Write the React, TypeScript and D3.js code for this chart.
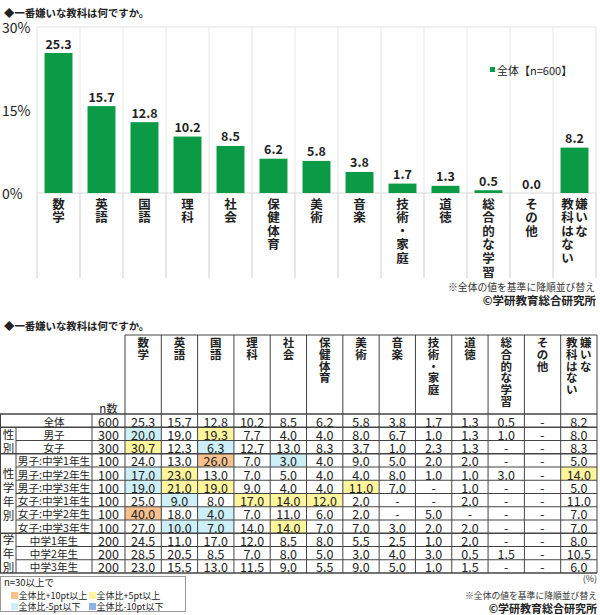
import React from 'react';
import * as d3 from 'd3';

const FONT = "'Noto Sans CJK JP', 'Noto Sans', sans-serif";

// ---- chart data ----
const categories = ['数学', '英語', '国語', '理科', '社会', '保健体育', '美術', '音楽', '技術・家庭', '道徳', '総合的な学習', 'その他', '嫌いな教科はない'];
const labelColumns = [['数学'], ['英語'], ['国語'], ['理科'], ['社会'], ['保健体育'], ['美術'], ['音楽'], ['技術・家庭'], ['道徳'], ['総合的な学習'], ['その他'], ['嫌いな', '教科はない']];
const overallValues = [25.3, 15.7, 12.8, 10.2, 8.5, 6.2, 5.8, 3.8, 1.7, 1.3, 0.5, 0.0, 8.2];
const yTicks = [0, 15, 30];
const legendLabel = '全体【n=600】';
const chartTitle = '◆一番嫌いな教科は何ですか。';

// ---- table data ----
const rowGroups = ['', '性別', '性別', '性学年別', '性学年別', '性学年別', '性学年別', '性学年別', '性学年別', '学年別', '学年別', '学年別'];
const rowLabels = ['全体', '男子', '女子', '男子:中学1年生', '男子:中学2年生', '男子:中学3年生', '女子:中学1年生', '女子:中学2年生', '女子:中学3年生', '中学1年生', '中学2年生', '中学3年生'];
const rowN = [600, 300, 300, 100, 100, 100, 100, 100, 100, 200, 200, 200];
const rowAll = [25.3, 15.7, 12.8, 10.2, 8.5, 6.2, 5.8, 3.8, 1.7, 1.3, 0.5, null, 8.2];
const rowMale = [20.0, 19.0, 19.3, 7.7, 4.0, 4.0, 8.0, 6.7, 1.0, 1.3, 1.0, null, 8.0];
const rowFemale = [30.7, 12.3, 6.3, 12.7, 13.0, 8.3, 3.7, 1.0, 2.3, 1.3, null, null, 8.3];
const rowM1 = [24.0, 13.0, 26.0, 7.0, 3.0, 4.0, 9.0, 5.0, 2.0, 2.0, null, null, 5.0];
const rowM2 = [17.0, 23.0, 13.0, 7.0, 5.0, 4.0, 4.0, 8.0, 1.0, 1.0, 3.0, null, 14.0];
const rowM3 = [19.0, 21.0, 19.0, 9.0, 4.0, 4.0, 11.0, 7.0, null, 1.0, null, null, 5.0];
const rowF1 = [25.0, 9.0, 8.0, 17.0, 14.0, 12.0, 2.0, null, null, 2.0, null, null, 11.0];
const rowF2 = [40.0, 18.0, 4.0, 7.0, 11.0, 6.0, 2.0, null, 5.0, null, null, null, 7.0];
const rowF3 = [27.0, 10.0, 7.0, 14.0, 14.0, 7.0, 7.0, 3.0, 2.0, 2.0, null, null, 7.0];
const rowG1 = [24.5, 11.0, 17.0, 12.0, 8.5, 8.0, 5.5, 2.5, 1.0, 2.0, null, null, 8.0];
const rowG2 = [28.5, 20.5, 8.5, 7.0, 8.0, 5.0, 3.0, 4.0, 3.0, 0.5, 1.5, null, 10.5];
const rowG3 = [23.0, 15.5, 13.0, 11.5, 9.0, 5.5, 9.0, 5.0, 1.0, 1.5, null, null, 6.0];
const tableValues = [rowAll, rowMale, rowFemale, rowM1, rowM2, rowM3, rowF1, rowF2, rowF3, rowG1, rowG2, rowG3];
const tableHeaderColumns = labelColumns;

const legendItems = [
  { label: '全体比+10pt以上', color: '#f8c18d' },
  { label: '全体比+5pt以上', color: '#fff59c' },
  { label: '全体比-5pt以下', color: '#cdeff7' },
  { label: '全体比-10pt以下', color: '#8db4e2' },
];

const GREEN = '#0b9a46';

function highlight(v: number | null, base: number | null, n: number, i: number): string | null {
  if (i === 0 || v == null || n < 30) return null;
  const b = base == null ? 0 : base;
  const d = v - b;
  if (d >= 10 - 1e-9) return legendItems[0].color;
  if (d >= 5 - 1e-9) return legendItems[1].color;
  if (d <= -10 + 1e-9) return legendItems[3].color;
  if (d <= -5 + 1e-9) return legendItems[2].color;
  return null;
}

function VerticalText({ cx, top, cols, step, size, weight, colGap }: any) {
  const n = cols.length;
  return (
    <g>
      {cols.map((col: string, ci: number) => {
        const xx = cx + ((n - 1) / 2 - ci) * colGap;
        return Array.from(col).map((ch, k) => (
          <text key={ci + '-' + k} x={xx} y={top + k * step} textAnchor="middle" dominantBaseline="central"
            fontSize={size} fontWeight={weight} fill="#222">{ch}</text>
        ));
      })}
    </g>
  );
}

export default function App() {
  // chart scales
  const x = d3.scaleBand<string>().domain(categories).range([37, 596]).paddingInner(0.35).paddingOuter(0.175);
  const xGrid = d3.scaleBand<string>().domain(categories).range([37, 596]);
  const y = d3.scaleLinear().domain([0, 30]).range([193, 27]);
  const gridXs = [...categories.map(c => xGrid(c) as number), 596];

  // table geometry
  const tTop = 414, tBottom = 573;
  const rh = (tBottom - tTop) / rowLabels.length;
  const col = d3.scaleBand<string>().domain(categories).range([125, 597]);
  const hdrTop = 335;

  // group spans
  const spans: { g: string; start: number; end: number }[] = [];
  rowGroups.forEach((g, i) => {
    if (i > 0 && rowGroups[i - 1] === g) spans[spans.length - 1].end = i;
    else spans.push({ g, start: i, end: i });
  });

  return (
    <svg width={600} height={615} style={{ position: 'absolute', left: 0, top: 0, background: '#fff' }} fontFamily={FONT}>
      {/* ===== Chart ===== */}
      <text x={4} y={12} dominantBaseline="central" fontSize={10.4} fontWeight="bold" fill="#222">{chartTitle}</text>
      {/* grid */}
      <line x1={37} x2={596} y1={y(30)} y2={y(30)} stroke="#e2e2e2" />
      {gridXs.map((gx, i) => (
        <line key={i} x1={gx} x2={gx} y1={y(30)} y2={193} stroke="#e6e6e6" />
      ))}
      {gridXs.map((gx, i) => (
        <line key={'b' + i} x1={gx} x2={gx} y1={193} y2={278} stroke="#cfcfcf" />
      ))}
      <line x1={37} x2={596} y1={y(0)} y2={y(0)} stroke="#d8d8d8" />
      {yTicks.map(t => (
        <text key={t} x={2} y={y(t)} dominantBaseline="central" fontSize={14} fill="#222">{t}%</text>
      ))}
      {categories.map((c, i) => (
        <g key={c}>
          <rect x={x(c)} y={y(overallValues[i])} width={x.bandwidth()} height={y(0) - y(overallValues[i])} fill={GREEN} />
          <text x={(x(c) as number) + x.bandwidth() / 2} y={y(overallValues[i]) - 10} textAnchor="middle" dominantBaseline="central"
            fontSize={12.5} fontWeight="bold" fill="#222">{overallValues[i].toFixed(1)}</text>
          <VerticalText cx={(x(c) as number) + x.bandwidth() / 2} top={203} cols={labelColumns[i]} step={13.6} size={12.5} weight="bold" colGap={14} />
        </g>
      ))}
      {/* legend */}
      <rect x={490} y={67} width={5} height={5} fill={GREEN} />
      <text x={497} y={70} dominantBaseline="central" fontSize={11} fill="#222">{legendLabel}</text>
      <text x={595} y={287} textAnchor="end" dominantBaseline="central" fontSize={9.8} fill="#333">※全体の値を基準に降順並び替え</text>
      <text x={596} y={300} textAnchor="end" dominantBaseline="central" fontSize={11.5} fontWeight="bold" fill="#222">©学研教育総合研究所</text>

      {/* ===== Table ===== */}
      <text x={4} y={325} dominantBaseline="central" fontSize={10.4} fontWeight="bold" fill="#222">{chartTitle}</text>
      {/* header */}
      {categories.map((c, j) => (
        <VerticalText key={c} cx={(col(c) as number) + col.bandwidth() / 2} top={342} cols={tableHeaderColumns[j]} step={11.8} size={11.5} weight="bold" colGap={14} />
      ))}
      <text x={108.5} y={408} textAnchor="middle" dominantBaseline="central" fontSize={11.5} fill="#222">n数</text>

      {/* highlight cells */}
      {tableValues.map((row, i) => row.map((v, j) => {
        const color = highlight(v, rowAll[j], rowN[i], i);
        if (!color) return null;
        const cx = col(categories[j]) as number;
        return <rect key={i + '-' + j} x={cx} y={tTop + i * rh} width={col.bandwidth()} height={rh} fill={color} />;
      }))}

      {/* body text */}
      {tableValues.map((row, i) => {
        const cy = tTop + (i + 0.5) * rh + 0.5;
        return (
          <g key={i}>
            <text x={54} y={cy} textAnchor="middle" dominantBaseline="central" fontSize={10.6} fill="#222">{rowLabels[i]}</text>
            <text x={108.5} y={cy} textAnchor="middle" dominantBaseline="central" fontSize={12.5} fill="#222">{rowN[i]}</text>
            {row.map((v, j) => (
              <text key={j} x={(col(categories[j]) as number) + col.bandwidth() / 2} y={cy} textAnchor="middle" dominantBaseline="central"
                fontSize={12.5} fill="#222">{v == null ? '-' : v.toFixed(1)}</text>
            ))}
          </g>
        );
      })}

      {/* group labels */}
      {spans.filter(s => s.g).map(s => {
        const chars = Array.from(s.g);
        const mid = tTop + ((s.start + s.end + 1) / 2) * rh;
        const step = 14;
        return chars.map((ch, k) => (
          <text key={s.g + k} x={8.5} y={mid + (k - (chars.length - 1) / 2) * step} textAnchor="middle" dominantBaseline="central"
            fontSize={11.5} fill="#222">{ch}</text>
        ));
      })}

      {/* lines */}
      {d3.range(rowLabels.length + 1).map(i => {
        const yy = tTop + i * rh;
        const boundary = i === 0 || i === rowLabels.length || rowGroups[i] !== rowGroups[i - 1];
        return <line key={'h' + i} x1={boundary ? 0 : 16} x2={597} y1={yy} y2={yy} stroke="#444" strokeWidth={boundary ? 1.3 : 1} />;
      })}
      <line x1={125} x2={597} y1={hdrTop} y2={hdrTop} stroke="#444" />
      <line x1={0.5} x2={0.5} y1={tTop} y2={tBottom} stroke="#444" />
      <line x1={16} x2={16} y1={tTop + rh} y2={tBottom} stroke="#444" />
      <line x1={92} x2={92} y1={tTop} y2={tBottom} stroke="#444" />
      {[...categories.map(c => col(c) as number), 597].map((vx, k) => (
        <line key={'v' + k} x1={vx} x2={vx} y1={hdrTop} y2={tBottom} stroke="#444" />
      ))}

      {/* table legend */}
      <rect x={0.5} y={576.5} width={185} height={35} fill="#fff" stroke="#999" />
      <text x={4} y={582} dominantBaseline="central" fontSize={9.5} fill="#222">n=30以上で</text>
      {legendItems.map((it, k) => {
        const lx = k % 2 === 0 ? 11 : 89;
        const ly = k < 2 ? 595.5 : 606.5;
        return (
          <g key={it.label}>
            <rect x={lx} y={ly - 3.5} width={7} height={7} fill={it.color} />
            <text x={lx + 7.5} y={ly} dominantBaseline="central" fontSize={9} fill="#222">{it.label}</text>
          </g>
        );
      })}

      <text x={597} y={578} textAnchor="end" dominantBaseline="central" fontSize={9} fill="#333">(%)</text>
      <text x={597} y={595} textAnchor="end" dominantBaseline="central" fontSize={8.8} fill="#333">※全体の値を基準に降順並び替え</text>
      <text x={597} y={608} textAnchor="end" dominantBaseline="central" fontSize={11} fontWeight="bold" fill="#222">©学研教育総合研究所</text>
    </svg>
  );
}
